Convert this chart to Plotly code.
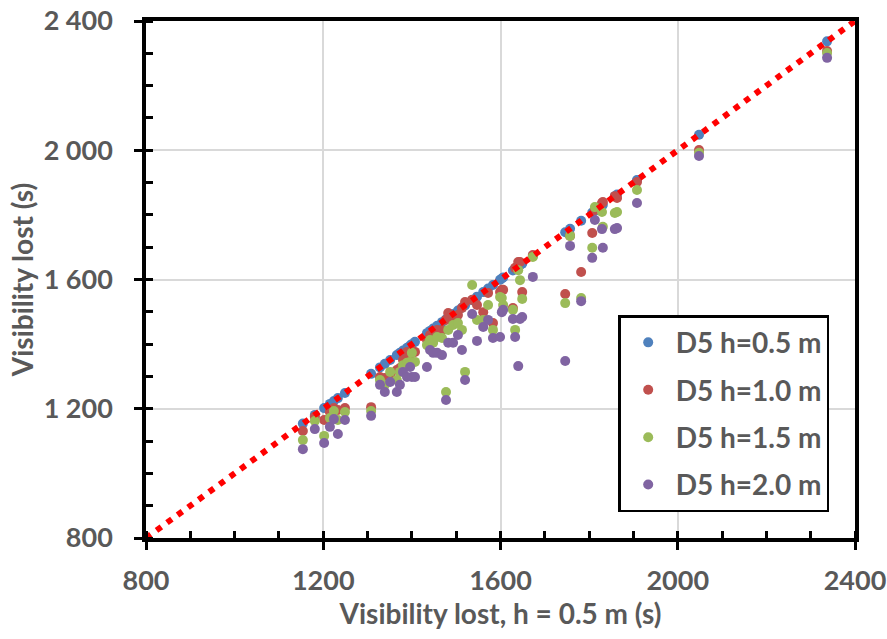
import plotly.graph_objects as go

# Visibility lost at h = 0.5 m (s) -- x values (blue series lies on the 1:1 line)
x_vals = [1154, 1181, 1202, 1215, 1224, 1233, 1249, 1308, 1328, 1339, 1351, 1366, 1373, 1380,
          1389, 1396, 1400, 1407, 1434, 1441, 1448, 1457, 1468, 1477, 1482, 1493, 1504, 1513,
          1520, 1536, 1547, 1561, 1572, 1583, 1599, 1603, 1606, 1628, 1633, 1640, 1644, 1649,
          1673, 1746, 1757, 1782, 1807, 1813, 1829, 1831, 1858, 1863, 1908, 2048, 2337]

h05 = list(x_vals)
h10 = [1131, 1175, 1165, 1190, 1202, 1196, 1202, 1205, 1298, 1295, 1304, 1320, 1326, 1351,
       1376, 1366, 1382, 1376, 1413, 1428, 1425, 1444, 1444, 1475, 1496, 1481, 1490, 1512,
       1530, 1537, 1521, 1499, 1558, 1465, 1561, 1568, 1568, 1512, 1636, 1654, 1654, 1561,
       1676, 1555, 1735, 1623, 1744, 1815, 1837, 1840, 1858, 1852, 1902, 2001, 2307]
h15 = [1103, 1162, 1116, 1171, 1193, 1165, 1190, 1193, 1289, 1274, 1314, 1289, 1314, 1335,
       1342, 1345, 1373, 1345, 1397, 1413, 1404, 1422, 1419, 1252, 1444, 1459, 1465, 1444,
       1314, 1583, 1475, 1475, 1521, 1444, 1546, 1543, 1521, 1506, 1444, 1629, 1598, 1540,
       1670, 1527, 1735, 1543, 1698, 1824, 1809, 1763, 1806, 1809, 1877, 1992, 2301]
h20 = [1075, 1137, 1094, 1144, 1168, 1122, 1165, 1178, 1274, 1252, 1283, 1252, 1274, 1314,
       1298, 1329, 1298, 1298, 1329, 1382, 1373, 1373, 1366, 1227, 1404, 1404, 1428, 1382,
       1289, 1493, 1410, 1453, 1475, 1419, 1422, 1499, 1506, 1478, 1422, 1332, 1478, 1484,
       1608, 1348, 1704, 1533, 1667, 1784, 1756, 1698, 1756, 1759, 1837, 1982, 2286]

series_names = ["D5 h=0.5 m", "D5 h=1.0 m", "D5 h=1.5 m", "D5 h=2.0 m"]
series_vals = [h05, h10, h15, h20]
colors = ["#4F81BD", "#C0504D", "#9BBB59", "#8064A2"]

line_x = [800, 2400]
line_y = [800, 2400]

FONT = "Lato"
GREY = "#595959"

fig = go.Figure()
for name, vals, col in zip(series_names, series_vals, colors):
    fig.add_trace(go.Scatter(x=x_vals, y=vals, mode="markers", name=name,
                             legendgroup=name,
                             marker=dict(color=col, size=10, line=dict(width=0))))

fig.add_trace(go.Scatter(x=line_x, y=line_y, mode="lines", showlegend=False,
                         line=dict(color="#FF0000", width=6, dash="6px,7px")))

axis_common = dict(
    range=[800, 2400], dtick=400, tick0=800,
    showline=True, linecolor="black", linewidth=3.5, mirror=True,
    showgrid=True, gridcolor="#D9D9D9", gridwidth=1.5,
    zeroline=False, automargin=False,
    ticks="outside", ticklen=8, tickwidth=2.5, tickcolor="black",
    minor=dict(dtick=100, ticks="inside", ticklen=7, tickwidth=2.5, tickcolor="black",
               showgrid=False),
    tickfont=dict(family=FONT, size=27, color=GREY, weight="bold"),
    title_font=dict(family=FONT, size=28, color=GREY, weight="bold"),
    ticklabeloverflow="allow",
)

fig.update_layout(
    width=887, height=639,
    margin=dict(l=146, r=32, t=21, b=101),
    paper_bgcolor="white", plot_bgcolor="white",
    separators=". ",
    xaxis=dict(axis_common, tickformat="d", ticklabelstandoff=8,
               title=dict(text="Visibility lost, h = 0.5 m (s)", standoff=6)),
    yaxis=dict(axis_common, tickformat=",d", ticklabelstandoff=16,
               title=dict(text="Visibility lost (s)", standoff=3)),
    legend=dict(x=0.666, y=0.431, xanchor="left", yanchor="top",
                bgcolor="white", bordercolor="black", borderwidth=2.5,
                font=dict(family=FONT, size=28, color=GREY, weight="bold"),
                tracegroupgap=8, traceorder="grouped", itemwidth=45),
    showlegend=True,
)

fig.write_html("out.html")
